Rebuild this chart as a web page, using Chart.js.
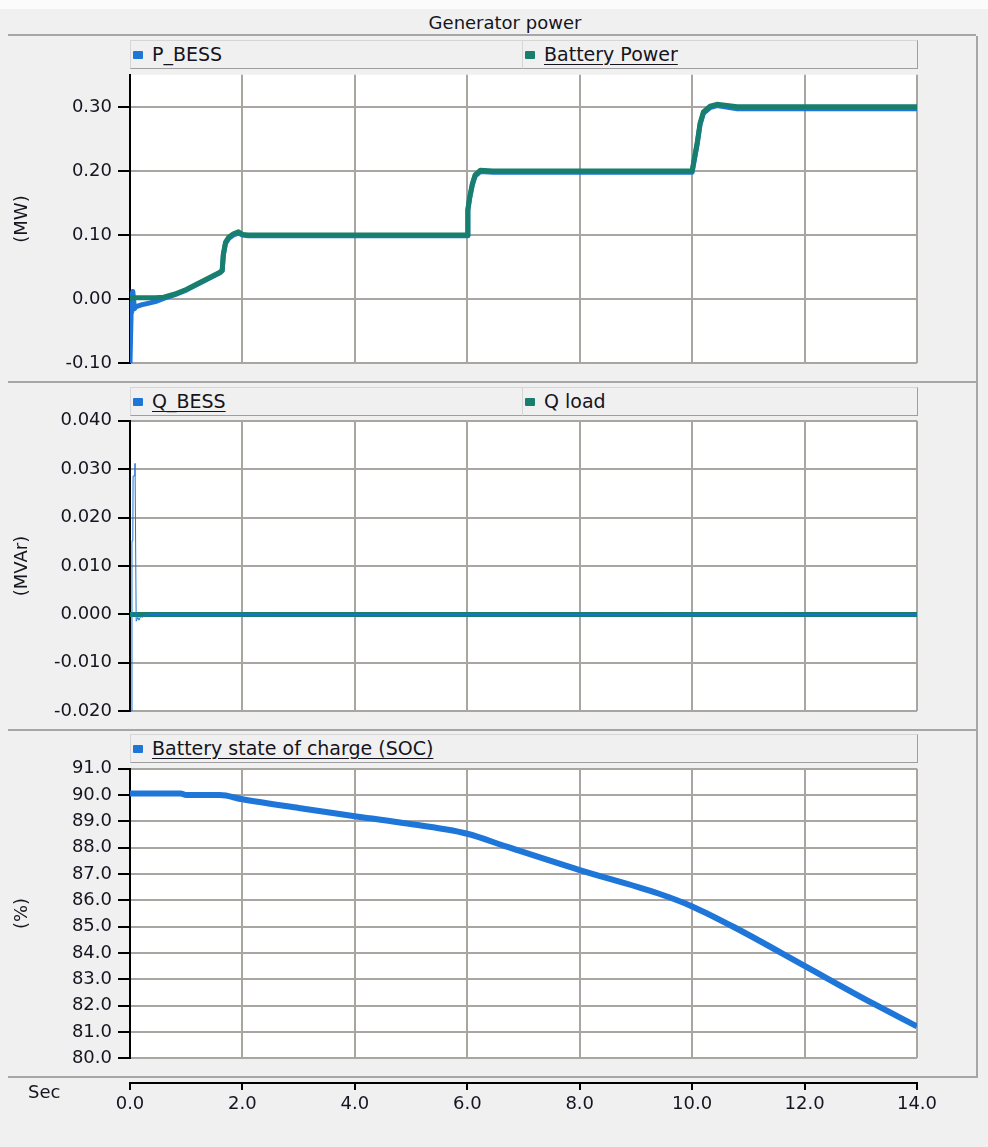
<!DOCTYPE html>
<html>
<head>
<meta charset="utf-8">
<title>Generator power</title>
<script src="https://cdn.jsdelivr.net/npm/chart.js@4.4.1/dist/chart.umd.min.js"></script>
<style>
  html, body { margin: 0; padding: 0; }
  body {
    width: 988px; height: 1147px; position: relative; overflow: hidden;
    background: #f0f0f0; color: #151520;
    font-family: "DejaVu Sans", Verdana, sans-serif;
  }
  .abs { position: absolute; }
  #topStrip { left: 0; top: 0; width: 988px; height: 9px; background: #fbfbfb; }
  #title { left: 0; top: 9px; width: 1010px; height: 27px; line-height: 27px; text-align: center; font-size: 18px; }
  .hline { height: 0; border-top: 2px solid #a6a6a6; }
  .vline { width: 0; border-left: 2px solid #a6a6a6; }
  .leg {
    position: absolute; height: 29px; box-sizing: border-box;
    background: #f0f0f0; border: 1px solid #d6d6d6;
    border-right-color: #9e9e9e; border-bottom-color: #9e9e9e;
    font-size: 19px; line-height: 27px; white-space: nowrap;
  }
  .leg u { text-underline-offset: 3px; }
  .sw { display: inline-block; width: 10px; height: 8px; border-radius: 1px; margin: 0 9px 0 2px; vertical-align: 2px; }
  #secLabel { left: 28px; top: 1081px; font-size: 18px; }
  canvas { position: absolute; left: 0; }
</style>
</head>
<body>
  <div id="topStrip" class="abs"></div>
  <div id="title" class="abs">Generator power</div>
  <div class="abs hline" style="left:8px; top:34px; width:968px;"></div>
  <div class="abs hline" style="left:8px; top:381px; width:968px;"></div>
  <div class="abs hline" style="left:8px; top:729px; width:968px;"></div>
  <div class="abs hline" style="left:8px; top:1076px; width:968px;"></div>
  <div class="abs vline" style="left:976px; top:36px; height:1042px;"></div>

  <div class="leg" style="left:130px; top:40px; width:393px;"><span class="sw" id="sw1"></span>P_BESS</div>
  <div class="leg" style="left:522px; top:40px; width:396px;"><span class="sw" id="sw2"></span><u>Battery Power</u></div>
  <div class="leg" style="left:130px; top:387px; width:393px;"><span class="sw" id="sw3"></span><u>Q_BESS</u></div>
  <div class="leg" style="left:522px; top:387px; width:396px;"><span class="sw" id="sw4"></span>Q load</div>
  <div class="leg" style="left:130px; top:734px; width:788px;"><span class="sw" id="sw5"></span><u>Battery state of charge (SOC)</u></div>

  <canvas id="chartP"   width="940" height="322" style="top:58px;"></canvas>
  <canvas id="chartQ"   width="940" height="324" style="top:404px;"></canvas>
  <canvas id="chartSoc" width="940" height="323" style="top:752px;"></canvas>
  <canvas id="chartX"   width="970" height="60"  style="top:1071px;"></canvas>
  <div id="secLabel" class="abs">Sec</div>

<script>
// === DATA ===
const TIME_P = [0, 0.005, 0.02, 0.03, 0.05, 0.08, 0.1, 0.2, 0.3, 0.45,
                0.6, 0.8, 1.0, 1.2, 1.4, 1.6, 1.64, 1.66, 1.7, 1.76,
                1.84, 1.93, 2.0, 2.1, 6.0, 6.01, 6.04, 6.09, 6.14, 6.23,
                6.46, 10.0, 10.02, 10.09, 10.14, 10.2, 10.32, 10.44, 10.8, 14.0];
const P_BESS = [-0.100, -0.100, -0.020, 0.002, 0.012, -0.015, -0.012, -0.009, -0.007, -0.004,
                0.001, 0.007, 0.014, 0.023, 0.032, 0.041, 0.044, 0.068, 0.087, 0.095,
                0.100, 0.103, 0.100, 0.099, 0.099, 0.138, 0.156, 0.178, 0.192, 0.199,
                0.198, 0.198, 0.208, 0.242, 0.272, 0.290, 0.299, 0.302, 0.297, 0.297];
const BATTERY_POWER = [0.000, 0.001, 0.002, 0.002, 0.002, 0.002, 0.002, 0.002, 0.002, 0.002,
                0.003, 0.008, 0.015, 0.024, 0.033, 0.042, 0.045, 0.070, 0.089, 0.097,
                0.102, 0.105, 0.101, 0.100, 0.100, 0.140, 0.158, 0.180, 0.194, 0.201,
                0.200, 0.200, 0.210, 0.244, 0.274, 0.292, 0.301, 0.304, 0.300, 0.300];

const TIME_Q = [0, 0.03, 0.035, 0.05, 0.055, 0.085, 0.09, 0.1, 0.11, 0.14, 0.16, 0.19, 0.22, 0.3, 14.0];
const Q_BESS = [-0.020, -0.020, 0.0152, 0.0152, 0.0286, 0.0286, 0.0312, 0.0312,
                -0.0014, -0.0006, -0.0012, -0.0004, -0.0006, 0.0, 0.0];
const Q_LOAD = [0, 0, 0, 0, 0, 0, 0, 0, 0, 0, 0, 0, 0, 0, 0];

const TIME_SOC = [0, 0.9, 1.0, 1.6, 2.0, 3.0, 4.0, 4.8, 6.0, 6.7, 8.0, 9.4, 10.0, 10.8, 12.0, 13.2, 14.0];
const SOC = [90.06, 90.06, 90.0, 90.0, 89.84, 89.51, 89.2, 88.96, 88.53, 88.04,
             87.15, 86.26, 85.77, 84.92, 83.51, 82.10, 81.21];

const X_TICKS   = [0, 2, 4, 6, 8, 10, 12, 14];
const P_TICKS   = [-0.1, 0, 0.1, 0.2, 0.3];
const Q_TICKS   = [-0.02, -0.01, 0, 0.01, 0.02, 0.03, 0.04];
const SOC_TICKS = [80, 81, 82, 83, 84, 85, 86, 87, 88, 89, 90, 91];

// === STYLE ===
const BLUE  = '#1e76d8';
const GREEN = '#177f6c';
const GRID  = '#a9a5a1';
const INK   = '#151520';
const PLOT_LEFT  = 130;
const PLOT_RIGHT = 917;

Chart.defaults.font.family = '"DejaVu Sans", Verdana, sans-serif';

// === UTILS ===
function toPoints(xs, ys){ return xs.map((x, i) => ({ x, y: ys[i] })); }
function fixedTicks(list){ return s => { s.ticks = list.map(v => ({ value: v })); }; }

// белая подложка под областью графика
const plotBg = {
  id: 'plotBg',
  beforeDraw(chart){
    const { ctx, chartArea: a } = chart;
    ctx.save();
    ctx.fillStyle = '#ffffff';
    ctx.fillRect(a.left, a.top, a.right - a.left, a.bottom - a.top);
    ctx.restore();
  }
};

// === RENDER ===
function panelChart(id, datasets, y){
  const cv = document.getElementById(id);
  return new Chart(cv, {
    type: 'line',
    data: { datasets },
    options: {
      responsive: false,
      animation: false,
      layout: { padding: { top: 12, bottom: 12, left: 0, right: cv.width - PLOT_RIGHT } },
      plugins: { legend: { display: false }, tooltip: { enabled: false } },
      elements: {
        point: { radius: 0 },
        line: { tension: 0, borderJoinStyle: 'round', borderCapStyle: 'butt' }
      },
      scales: {
        x: {
          type: 'linear', min: 0, max: 14,
          afterBuildTicks: fixedTicks(X_TICKS),
          afterFit: s => { s.height = 0; },
          ticks: { display: false },
          border: { display: false },
          grid: { color: GRID, lineWidth: 2, drawTicks: false }
        },
        y: {
          min: y.min, max: y.max,
          afterBuildTicks: fixedTicks(y.ticks),
          afterFit: s => { s.width = PLOT_LEFT; },
          ticks: { color: INK, padding: 6, font: { size: 18 }, callback: v => Number(v).toFixed(y.digits) },
          border: { color: '#000', width: 2 },
          grid: { color: GRID, lineWidth: 2, tickLength: 12, tickColor: '#000', tickWidth: 2 },
          title: { display: true, text: y.title, color: INK, font: { size: 18 }, padding: { top: 12, bottom: 0 } }
        }
      }
    },
    plugins: [plotBg]
  });
}

function axisChart(id){
  const cv = document.getElementById(id);
  return new Chart(cv, {
    type: 'line',
    data: { datasets: [] },
    options: {
      responsive: false,
      animation: false,
      layout: { padding: { top: 11, bottom: 0, left: PLOT_LEFT, right: cv.width - PLOT_RIGHT } },
      plugins: { legend: { display: false }, tooltip: { enabled: false } },
      scales: {
        x: {
          type: 'linear', min: 0, max: 14,
          afterBuildTicks: fixedTicks(X_TICKS),
          afterFit: s => { s.height = cv.height - 12; },
          border: { color: '#000', width: 2 },
          grid: { drawOnChartArea: false, tickLength: 7, tickColor: '#000', tickWidth: 2, color: '#000', lineWidth: 2 },
          ticks: { color: INK, padding: 4, maxRotation: 0, font: { size: 18 }, callback: v => Number(v).toFixed(1) }
        },
        y: { display: false, min: 0, max: 1 }
      }
    }
  });
}

// === BOOT ===
function boot(){
  document.getElementById('sw1').style.background = BLUE;
  document.getElementById('sw2').style.background = GREEN;
  document.getElementById('sw3').style.background = BLUE;
  document.getElementById('sw4').style.background = GREEN;
  document.getElementById('sw5').style.background = BLUE;

  // зелёная линия поверх синей (order 0 рисуется последним)
  panelChart('chartP', [
    { label: 'P_BESS', data: toPoints(TIME_P, P_BESS), borderColor: BLUE, borderWidth: 5, order: 1 },
    { label: 'Battery Power', data: toPoints(TIME_P, BATTERY_POWER), borderColor: GREEN, borderWidth: 5, order: 0 }
  ], { min: -0.1, max: 0.35, ticks: P_TICKS, digits: 2, title: '(MW)' });

  panelChart('chartQ', [
    { label: 'Q_BESS', data: toPoints(TIME_Q, Q_BESS), borderColor: BLUE, borderWidth: 1, order: 0 },
    { label: 'Q load', data: toPoints(TIME_Q, Q_LOAD), borderColor: GREEN, borderWidth: 5, order: 1 }
  ], { min: -0.02, max: 0.04, ticks: Q_TICKS, digits: 3, title: '(MVAr)' });

  // SOC — плавная кривая силами библиотеки
  panelChart('chartSoc', [
    { label: 'Battery state of charge (SOC)', data: toPoints(TIME_SOC, SOC), borderColor: BLUE, borderWidth: 6,
      cubicInterpolationMode: 'monotone' }
  ], { min: 80, max: 91, ticks: SOC_TICKS, digits: 1, title: '(%)' });

  axisChart('chartX');
}

if (document.readyState === 'loading'){
  document.addEventListener('DOMContentLoaded', boot, { once: true });
} else {
  boot();
}
</script>
</body>
</html>
